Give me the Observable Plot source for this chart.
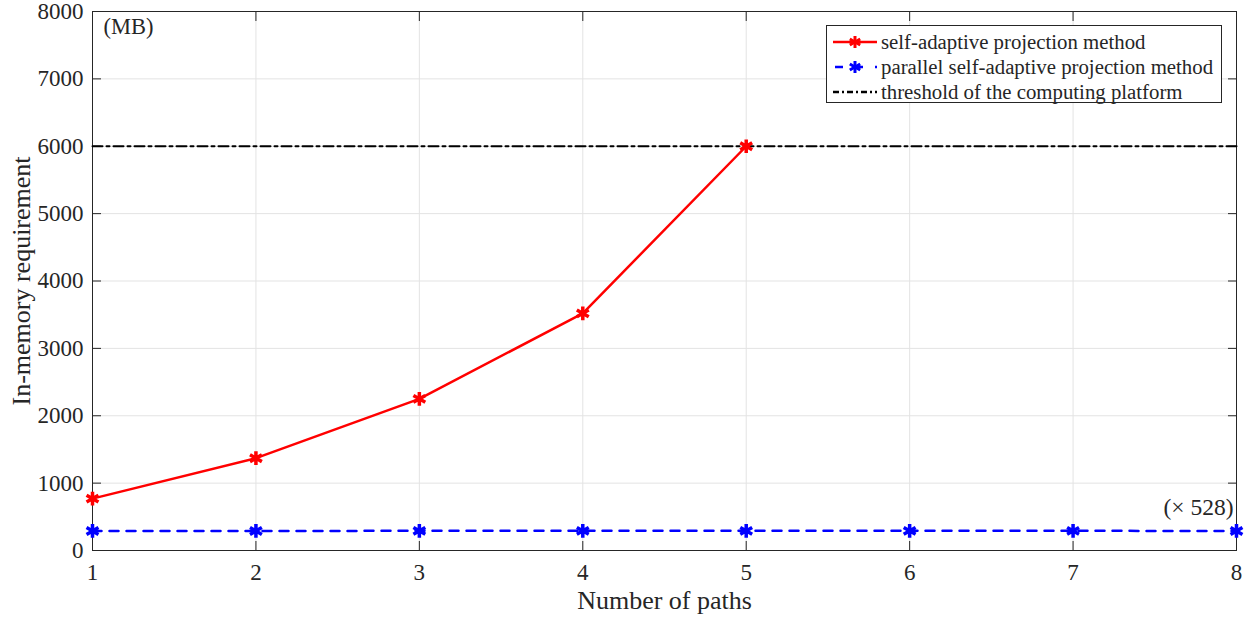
<!DOCTYPE html>
<html>
<head>
<meta charset="utf-8">
<script src="https://cdn.jsdelivr.net/npm/d3@7"></script>
<script src="https://cdn.jsdelivr.net/npm/@observablehq/plot@0.6"></script>
<style>
  html, body { margin: 0; padding: 0; background: #fff; }
  #wrap { position: relative; width: 1247px; height: 619px; font-family: "Liberation Serif", "Times New Roman", serif; }
  #wrap svg text { font-family: "Liberation Serif", "Times New Roman", serif; }
  #legend { position: absolute; left: 826px; top: 25px; width: 396px; height: 78px; border: 1px solid #262626; background: #fff; box-sizing: border-box; font-size: 20.8px; color: #262626; }
  #legend .row { position: absolute; left: 4px; height: 25px; display: flex; align-items: center; white-space: nowrap; }
  #legend svg { margin-right: 2px; }
</style>
</head>
<body>
<div id="wrap"></div>
<script>
const paths = [1, 2, 3, 4, 5, 6, 7, 8];
const selfAdaptivePaths = [1, 2, 3, 4, 5];
const selfAdaptive = [770, 1370, 2250, 3520, 6000];
const parallelSelfAdaptive = [290, 290, 292, 292, 292, 292, 292, 290];
const thresholdValue = 6000;
const yTicks = [0, 1000, 2000, 3000, 4000, 5000, 6000, 7000, 8000];
const xTicks = [1, 2, 3, 4, 5, 6, 7, 8];
const seriesNames = ["self-adaptive projection method", "parallel self-adaptive projection method", "threshold of the computing platform"];
const xLabel = "Number of paths";
const yLabel = "In-memory requirement";
const unitNote = "(MB)";
const scaleNote = "(\u00d7 528)";

const redData = selfAdaptivePaths.map((p, i) => ({x: p, y: selfAdaptive[i]}));
const blueData = paths.map((p, i) => ({x: p, y: parallelSelfAdaptive[i]}));
const thrData = [{x: paths[0], y: thresholdValue}, {x: paths[paths.length - 1], y: thresholdValue}];

const ink = "#262626";
const grid = "#e3e3e3";
const fmt = d3.format("d");

const chart = Plot.plot({
  width: 1247,
  height: 619,
  marginLeft: 92,
  marginRight: 11,
  marginTop: 11,
  marginBottom: 69,
  style: {fontFamily: '"Liberation Serif", "Times New Roman", serif', fontSize: "23px", background: "#fff", color: ink},
  x: {domain: [1, 8], ticks: xTicks},
  y: {domain: [0, 8000], ticks: yTicks},
  marks: [
    Plot.gridX(xTicks, {stroke: grid, strokeOpacity: 1}),
    Plot.gridY(yTicks, {stroke: grid, strokeOpacity: 1}),
    Plot.frame({stroke: ink, strokeWidth: 1}),
    // inward tick marks (all four sides)
    Plot.axisY(yTicks, {anchor: "left", tickSize: -9, tickFormat: () => "", label: null, stroke: ink}),
    Plot.axisY(yTicks, {anchor: "right", tickSize: -9, tickFormat: () => "", label: null, stroke: ink}),
    Plot.axisX(xTicks, {anchor: "bottom", tickSize: -9, tickFormat: () => "", label: null, stroke: ink}),
    Plot.axisX(xTicks, {anchor: "top", tickSize: -9, tickFormat: () => "", label: null, stroke: ink}),
    // tick labels
    Plot.axisY(yTicks, {anchor: "left", tickSize: 0, tickPadding: 9, fontSize: 23, fill: ink, tickFormat: fmt, label: null}),
    Plot.axisX(xTicks, {anchor: "bottom", tickSize: 0, tickPadding: 13, fontSize: 23, fill: ink, tickFormat: fmt, label: null}),
    // axis titles
    Plot.text([xLabel], {frameAnchor: "bottom", dy: 50, fontSize: 26, fill: ink, textAnchor: "middle", lineAnchor: "middle"}),
    Plot.text([yLabel], {frameAnchor: "left", dx: -71, rotate: -90, fontSize: 26, fill: ink, textAnchor: "middle", lineAnchor: "middle"}),
    // threshold
    Plot.line(thrData, {x: "x", y: "y", stroke: "#000", strokeWidth: 2, strokeDasharray: "10,4,3,4"}),
    // parallel
    Plot.line(blueData, {x: "x", y: "y", stroke: "#0000ff", strokeWidth: 2.5, strokeDasharray: "9,8"}),
    Plot.dot(blueData, {x: "x", y: "y", symbol: "asterisk", r: 6.5, stroke: "#0000ff", strokeWidth: 3.5}),
    // self-adaptive
    Plot.line(redData, {x: "x", y: "y", stroke: "#ff0000", strokeWidth: 2.5}),
    Plot.dot(redData, {x: "x", y: "y", symbol: "asterisk", r: 6.5, stroke: "#ff0000", strokeWidth: 3.5}),
    // annotations
    Plot.text([unitNote], {frameAnchor: "top-left", dx: 11, dy: 7, fontSize: 22.5, fill: ink, textAnchor: "start", lineAnchor: "top"}),
    Plot.text([scaleNote], {x: [paths[paths.length - 1]], y: [parallelSelfAdaptive[paths.length - 1]], dx: -3, dy: -23, fontSize: 23.5, fill: ink, textAnchor: "end"})
  ]
});

const wrap = document.getElementById("wrap");
wrap.appendChild(chart);

// legend
const legend = document.createElement("div");
legend.id = "legend";
const styles = [
  {stroke: "#ff0000", dash: null, marker: true},
  {stroke: "#0000ff", dash: "8,12,8,12", marker: true},
  {stroke: "#000", dash: "6,3,2,3", marker: false}
];
seriesNames.forEach((name, i) => {
  const row = document.createElement("div");
  row.className = "row";
  row.style.top = (3.5 + i * 24.8) + "px";
  const s = styles[i];
  const ns = "http://www.w3.org/2000/svg";
  const sv = document.createElementNS(ns, "svg");
  sv.setAttribute("width", "48");
  sv.setAttribute("height", "20");
  const ln = document.createElementNS(ns, "line");
  ln.setAttribute("x1", i === 1 ? "4" : "2"); ln.setAttribute("x2", "46");
  ln.setAttribute("y1", "10"); ln.setAttribute("y2", "10");
  ln.setAttribute("stroke", s.stroke);
  ln.setAttribute("stroke-width", "2.5");
  if (s.dash) ln.setAttribute("stroke-dasharray", s.dash);
  sv.appendChild(ln);
  if (s.marker) {
    const g = document.createElementNS(ns, "g");
    g.setAttribute("transform", "translate(24,10)");
    g.setAttribute("stroke", s.stroke);
    g.setAttribute("stroke-width", "3");
    for (let a = 0; a < 3; a++) {
      const l = document.createElementNS(ns, "line");
      const ang = a * Math.PI / 3 + Math.PI / 2;
      l.setAttribute("x1", (-6 * Math.cos(ang)).toFixed(2));
      l.setAttribute("y1", (-6 * Math.sin(ang)).toFixed(2));
      l.setAttribute("x2", (6 * Math.cos(ang)).toFixed(2));
      l.setAttribute("y2", (6 * Math.sin(ang)).toFixed(2));
      g.appendChild(l);
    }
    sv.appendChild(g);
  }
  row.appendChild(sv);
  const t = document.createElement("span");
  t.textContent = name;
  row.appendChild(t);
  legend.appendChild(row);
});
wrap.appendChild(legend);
</script>
</body>
</html>
